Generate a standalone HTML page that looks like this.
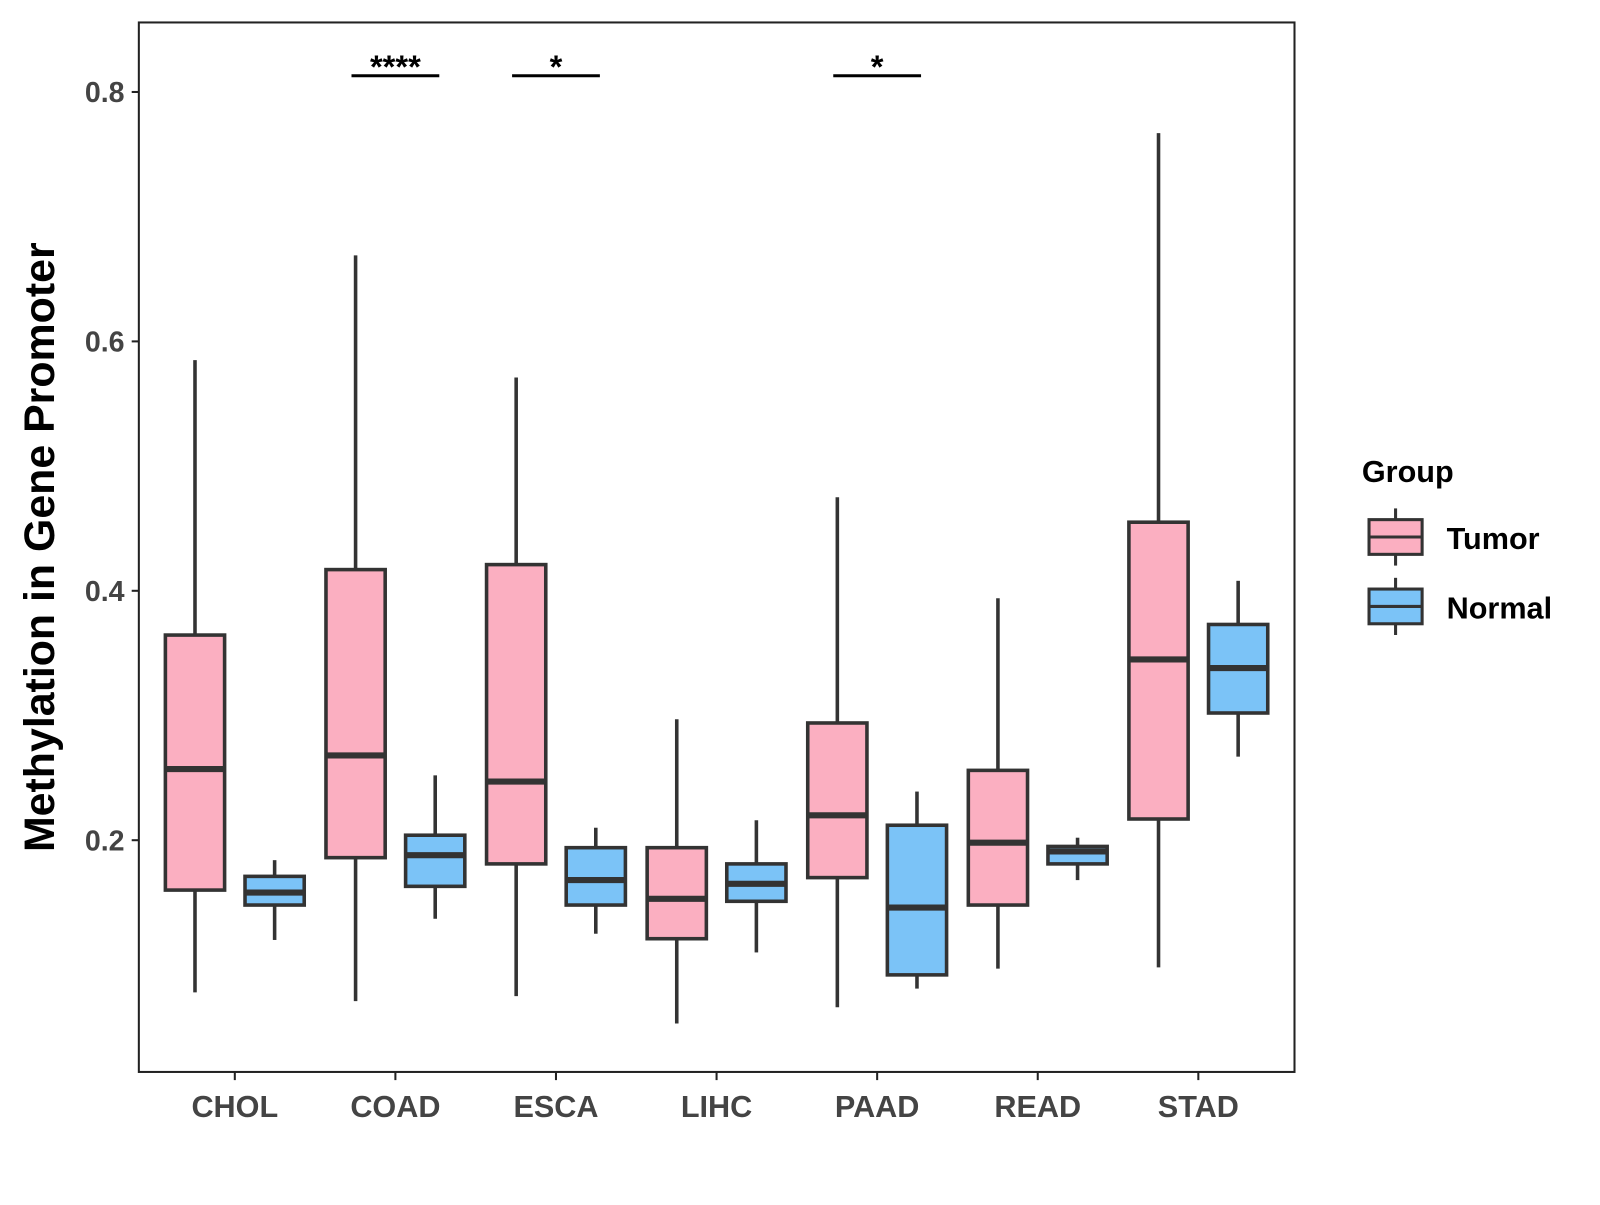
<!DOCTYPE html>
<html><head><meta charset="utf-8"><style>
body{margin:0;background:#fff}
svg text{font-family:"Liberation Sans",Arial,sans-serif;font-weight:bold}
</style></head><body>
<svg width="1600" height="1200" viewBox="0 0 1600 1200" xmlns="http://www.w3.org/2000/svg">
<rect x="0" y="0" width="1600" height="1200" fill="#fff"/>
<g id="chart" transform="scale(1.0209)">
<rect x="136" y="22" width="1132" height="1028" fill="none" stroke="#222" stroke-width="2"/>
<g id="marks"></g>
<text transform="translate(53,536) rotate(-90)" text-anchor="middle" font-size="42" fill="#000">Methylation in Gene Promoter</text>
<text x="1334" y="472" font-size="30" fill="#000">Group</text>
<g>
<line x1="1367" y1="498" x2="1367" y2="554" stroke="#333" stroke-width="3"/>
<rect x="1341" y="509" width="52" height="34" fill="#FBAFC1" stroke="#333" stroke-width="3"/>
<line x1="1341" y1="526" x2="1393" y2="526" stroke="#333" stroke-width="3"/>
<text x="1417" y="538" font-size="30" fill="#000">Tumor</text>
</g>
<g>
<line x1="1367" y1="566" x2="1367" y2="622" stroke="#333" stroke-width="3"/>
<rect x="1341" y="577" width="52" height="34" fill="#7BC3F7" stroke="#333" stroke-width="3"/>
<line x1="1341" y1="594" x2="1393" y2="594" stroke="#333" stroke-width="3"/>
<text x="1417" y="606" font-size="30" fill="#000">Normal</text>
</g>
</g>
</svg>
<script>
const categories=["CHOL","COAD","ESCA","LIHC","PAAD","READ","STAD"];
const tumorMin=[0.078,0.071,0.075,0.053,0.066,0.097,0.098];
const tumorQ1=[0.160,0.186,0.181,0.121,0.170,0.148,0.217];
const tumorMed=[0.257,0.268,0.247,0.153,0.220,0.198,0.345];
const tumorQ3=[0.3645,0.417,0.421,0.194,0.294,0.256,0.455];
const tumorMax=[0.585,0.669,0.571,0.297,0.475,0.394,0.767];
const normalMin=[0.120,0.137,0.125,0.110,0.081,0.168,0.267];
const normalQ1=[0.148,0.163,0.148,0.151,0.092,0.181,0.302];
const normalMed=[0.158,0.188,0.168,0.165,0.146,0.191,0.338];
const normalQ3=[0.171,0.204,0.194,0.181,0.212,0.195,0.373];
const normalMax=[0.184,0.252,0.210,0.216,0.239,0.202,0.408];
const yTicks=[0.2,0.4,0.6,0.8];
const sigCategories=["COAD","ESCA","PAAD"];
const sigLabels=["****","*","*"];
const sigLevel=[0.813];

const NS="http://www.w3.org/2000/svg";
const g=document.getElementById("marks");
function y(v){return 823-(v-0.2)*1221.5;}
function xc(i){return 230+i*157.3;}
function mk(tag,attrs,parent){const e=document.createElementNS(NS,tag);for(const k in attrs)e.setAttribute(k,attrs[k]);(parent||g).appendChild(e);return e;}

yTicks.forEach(t=>{
  const tk=mk("line",{x1:129,x2:136,y1:y(t),y2:y(t),stroke:"#222","stroke-width":2});
  
  
  const tx=mk("text",{x:122,y:y(t)+10,"text-anchor":"end","font-size":28,fill:"#444"});
  tx.textContent=t.toFixed(1);
  
  
});
categories.forEach((c,i)=>{
  const tk=mk("line",{x1:xc(i),x2:xc(i),y1:1050,y2:1058,stroke:"#222","stroke-width":2});
  
  
  const tx=mk("text",{x:xc(i),y:1094,"text-anchor":"middle","font-size":30,fill:"#444"});
  tx.textContent=c;
  
  
});
function box(cx,mn,q1,md,q3,mx,fill,name){
  const grp=mk("g",{});
  
  
  mk("line",{x1:cx,x2:cx,y1:y(mx),y2:y(q3),stroke:"#333","stroke-width":3.5},grp);
  mk("line",{x1:cx,x2:cx,y1:y(q1),y2:y(mn),stroke:"#333","stroke-width":3.5},grp);
  mk("rect",{x:cx-29,y:y(q3),width:58,height:y(q1)-y(q3),fill:fill,stroke:"#333","stroke-width":3.5},grp);
  mk("line",{x1:cx-29,x2:cx+29,y1:y(md),y2:y(md),stroke:"#333","stroke-width":6},grp);
}
categories.forEach((c,i)=>{
  box(xc(i)-39,tumorMin[i],tumorQ1[i],tumorMed[i],tumorQ3[i],tumorMax[i],"#FBAFC1","box-"+c.toLowerCase()+"-tumor");
  box(xc(i)+39,normalMin[i],normalQ1[i],normalMed[i],normalQ3[i],normalMax[i],"#7BC3F7","box-"+c.toLowerCase()+"-normal");
});
sigCategories.forEach((c,j)=>{
  const i=categories.indexOf(c);
  const ly=y(sigLevel[0]);
  const l=mk("line",{x1:xc(i)-43,x2:xc(i)+43,y1:ly,y2:ly,stroke:"#000","stroke-width":3});
  
  
  const t=mk("text",{x:xc(i),y:ly+2,"text-anchor":"middle","font-size":32,fill:"#000"});
  t.textContent=sigLabels[j];
  
  
});
</script>
</body></html>
